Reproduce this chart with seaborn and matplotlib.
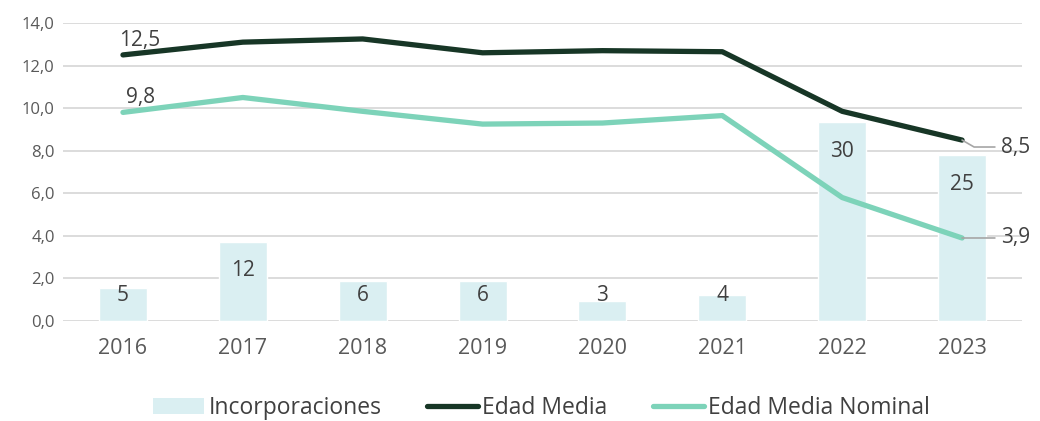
import numpy as np
import pandas as pd
import seaborn as sns
import matplotlib.pyplot as plt
from matplotlib.patches import Patch
from matplotlib.lines import Line2D

years = ["2016", "2017", "2018", "2019", "2020", "2021", "2022", "2023"]
incorporaciones = [5, 12, 6, 6, 3, 4, 30, 25]
edad_media = [12.5, 13.1, 13.25, 12.6, 12.7, 12.65, 9.85, 8.5]
edad_media_nominal = [9.8, 10.5, 9.85, 9.25, 9.3, 9.65, 5.8, 3.9]

df = pd.DataFrame({
    "year": years,
    "Incorporaciones": incorporaciones,
    "Edad Media": edad_media,
    "Edad Media Nominal": edad_media_nominal,
})

sns.set_style("white")
plt.rcParams["font.family"] = ["Open Sans", "DejaVu Sans"]

text_col = "#404040"
bar_col = "#daeff2"
dark = "#173626"
light = "#7dd3b9"

fig = plt.figure(figsize=(10.4, 4.21), dpi=100)
ax = fig.add_axes([0.0606, 0.2375, 0.9221, 0.7079])
ax2 = ax.twinx()

# bars on the hidden secondary scale
sns.barplot(data=df, x="year", y="Incorporaciones", color=bar_col,
            width=0.4, saturation=1, ax=ax2, zorder=2)
ax2.set_ylim(0, 45)
ax2.set_yticks(np.linspace(0, 45, 8))
ax2.yaxis.grid(True, color="#d9d9d9", lw=1.3, zorder=0)
ax2.set_axisbelow(True)
ax2.tick_params(right=False, labelright=False)
ax2.set_ylabel("")
for i, v in enumerate(incorporaciones):
    ax2.text(i, max(v - 4.4, 3.9), str(v), ha="center", va="center",
             fontsize=15, color=text_col)

# lines on the visible scale
sns.lineplot(data=df, x="year", y="Edad Media", color=dark, lw=3.8,
             ax=ax, sort=False)
sns.lineplot(data=df, x="year", y="Edad Media Nominal", color=light, lw=3.8,
             ax=ax, sort=False)
ax.set_zorder(ax2.get_zorder() + 1)
ax.patch.set_visible(False)
ax.set_ylim(0, 14)
ax.set_xlim(-0.5, 7.5)
ax.set_yticks(np.arange(0, 15, 2))
ax.set_yticklabels([f"{t:.1f}".replace(".", ",") for t in np.arange(0, 15, 2)],
                   fontsize=12, color="#595959")
ax.tick_params(axis="x", labelsize=15.5, labelcolor="#595959", pad=12, length=0)
ax.tick_params(axis="y", length=0, pad=6)
ax.set_xlabel("")
ax.set_ylabel("")
for a in (ax, ax2):
    for s in a.spines.values():
        s.set_visible(False)

fmt = lambda v: f"{v:.1f}".replace(".", ",")
ax.annotate(fmt(edad_media[0]), (0, edad_media[0]), xytext=(-3, 3),
            textcoords="offset points", ha="left", va="bottom",
            fontsize=15, color=text_col)
ax.annotate(fmt(edad_media_nominal[0]), (0, edad_media_nominal[0]),
            xytext=(2, 3), textcoords="offset points", ha="left",
            va="bottom", fontsize=15, color=text_col)
ax.annotate(fmt(edad_media[-1]), (7, edad_media[-1]), xytext=(28, -5),
            textcoords="offset points", ha="left", va="center",
            fontsize=15, color=text_col,
            arrowprops=dict(arrowstyle="-", color="#a6a6a6", lw=1.2,
                            connectionstyle="angle,angleA=0,angleB=-30,rad=0",
                            shrinkA=2, shrinkB=0))
ax.annotate(fmt(edad_media_nominal[-1]), (7, edad_media_nominal[-1]),
            xytext=(28, 0), textcoords="offset points", ha="left",
            va="center", fontsize=15, color=text_col,
            arrowprops=dict(arrowstyle="-", color="#a6a6a6", lw=1.2,
                            shrinkA=2, shrinkB=0))

handles = [
    Patch(facecolor=bar_col, edgecolor="none"),
    Line2D([], [], color=dark, lw=3.8),
    Line2D([], [], color=light, lw=3.8),
]
fig.legend(handles, ["Incorporaciones", "Edad Media", "Edad Media Nominal"],
           loc="center", bbox_to_anchor=(0.521, 0.03), ncol=3, frameon=False,
           fontsize=16.5, labelcolor=text_col, handlelength=2.2,
           handletextpad=0.2, columnspacing=2.0)

fig.savefig("out.png", dpi=100)
plt.close()
